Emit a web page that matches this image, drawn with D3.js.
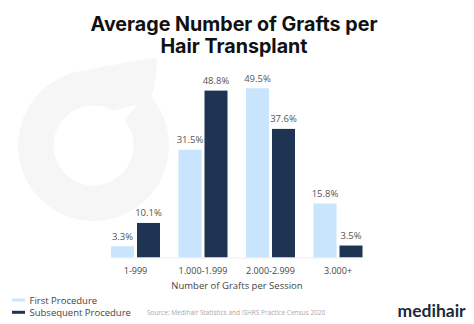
<!DOCTYPE html>
<html><head><meta charset="utf-8">
<script src="https://cdn.jsdelivr.net/npm/d3@7"></script>
<style>body{margin:0;background:#fff}svg{display:block}</style>
</head><body>
<svg id="c" width="474" height="324"></svg>
<script>
const categories = ["1-999", "1.000-1.999", "2.000-2.999", "3.000+"];
const seriesNames = ["First Procedure", "Subsequent Procedure"];
const firstProcedure = [3.3, 31.5, 49.5, 15.8];
const subsequentProcedure = [10.1, 48.8, 37.6, 3.5];
const colors = ["#c9e5fd", "#1f3453"];
const titleLines = ["Average Number of Grafts per", "Hair Transplant"];
const xTitle = "Number of Grafts per Session";
const sourceText = "Source: Medihair Statistics and ISHRS Practice Census 2020";
const brand = "medihair";

const svg = d3.select("#c");
const values = [firstProcedure, subsequentProcedure];

// watermark logo
const C = [93.5, 145.5], R = 75.5, r = 40;
const pt = (rad, deg) => [C[0] + rad * Math.sin(deg * Math.PI / 180), C[1] - rad * Math.cos(deg * Math.PI / 180)];
const oS = pt(R, -5), oE = pt(R, 50), i30 = pt(r, 30), i50 = pt(r, 50), nT = pt(61, 47);
svg.append("path")
  .attr("d", `M${oS} Q130,61 157,58 Q157,80 ${oE} A${R},${R} 0 1 1 ${oS} Z ` +
             `M${i30} L${nT} L${i50} A${r},${r} 0 1 1 ${i30} Z`)
  .attr("fill-rule", "evenodd")
  .attr("fill", "#f6f6f6");

const x0 = d3.scaleBand().domain(categories).range([111, 362.5]).paddingInner(0.274).paddingOuter(0);
const x1 = d3.scaleBand().domain(seriesNames).range([0, x0.bandwidth()]).paddingInner(0.1154).paddingOuter(0);
const y = d3.scaleLinear().domain([0, 50]).range([257.5, 86.5]);

const data = [];
categories.forEach((c, i) => seriesNames.forEach((s, j) => data.push({c, s, j, v: values[j][i]})));

const g = svg.append("g");
g.selectAll("rect").data(data).join("rect")
  .attr("x", d => x0(d.c) + x1(d.s))
  .attr("width", x1.bandwidth())
  .attr("y", d => y(d.v))
  .attr("height", d => y(0) - y(d.v))
  .attr("fill", d => colors[d.j]);

g.selectAll("text.v").data(data).join("text").attr("class", "v")
  .attr("x", d => x0(d.c) + x1(d.s) + x1.bandwidth() / 2)
  .attr("y", d => y(d.v) - 6.5)
  .attr("text-anchor", "middle")
  .attr("font-family", "Open Sans")
  .attr("font-size", 9.5)
  .attr("fill", "#555")
  .text(d => d.v.toFixed(1) + "%");

// x axis
const ax = svg.append("g").attr("transform", `translate(0,${y(0)})`)
  .call(d3.axisBottom(x0).tickSize(0).tickPadding(10));
ax.select(".domain").attr("stroke", "#eeeeee");
ax.selectAll("text").attr("font-family", "Open Sans").attr("font-size", 9).attr("fill", "#444");

svg.append("text").attr("x", 237).attr("y", 288.5).attr("text-anchor", "middle")
  .attr("font-family", "Open Sans").attr("font-size", 9.5).attr("fill", "#444").text(xTitle);

// title
const tt = svg.selectAll("text.t").data(titleLines).join("text").attr("class", "t")
  .attr("x", 234).attr("y", (d, i) => 31 + i * 21.7)
  .attr("text-anchor", "middle")
  .attr("font-family", "Inter").attr("font-weight", 700).attr("font-size", 20)
  .attr("fill", "#111").text(d => d);
const w0 = tt.nodes()[0].getComputedTextLength();
tt.attr("font-size", 20 * 287 / w0);

// legend
const lg = svg.selectAll("g.lg").data(seriesNames).join("g").attr("class", "lg")
  .attr("transform", (d, i) => `translate(12,${300 + i * 12.3})`);
lg.append("rect").attr("x", 0).attr("y", -1.5).attr("width", 13).attr("height", 3).attr("fill", (d, i) => colors[i]);
lg.append("text").attr("x", 17.5).attr("y", 3.5)
  .attr("font-family", "Open Sans").attr("font-size", 9.5).attr("fill", "#444").text(d => d);

svg.append("text").attr("x", 147).attr("y", 314.5)
  .attr("font-family", "Open Sans").attr("font-size", 6.5).attr("fill", "#aaa").text(sourceText);

svg.append("text").attr("x", 397.5).attr("y", 317)
  .attr("font-family", "Lato").attr("font-weight", 700).attr("font-size", 17.5)
  .attr("fill", "#1c2a3c").text(brand);
</script>
</body></html>
